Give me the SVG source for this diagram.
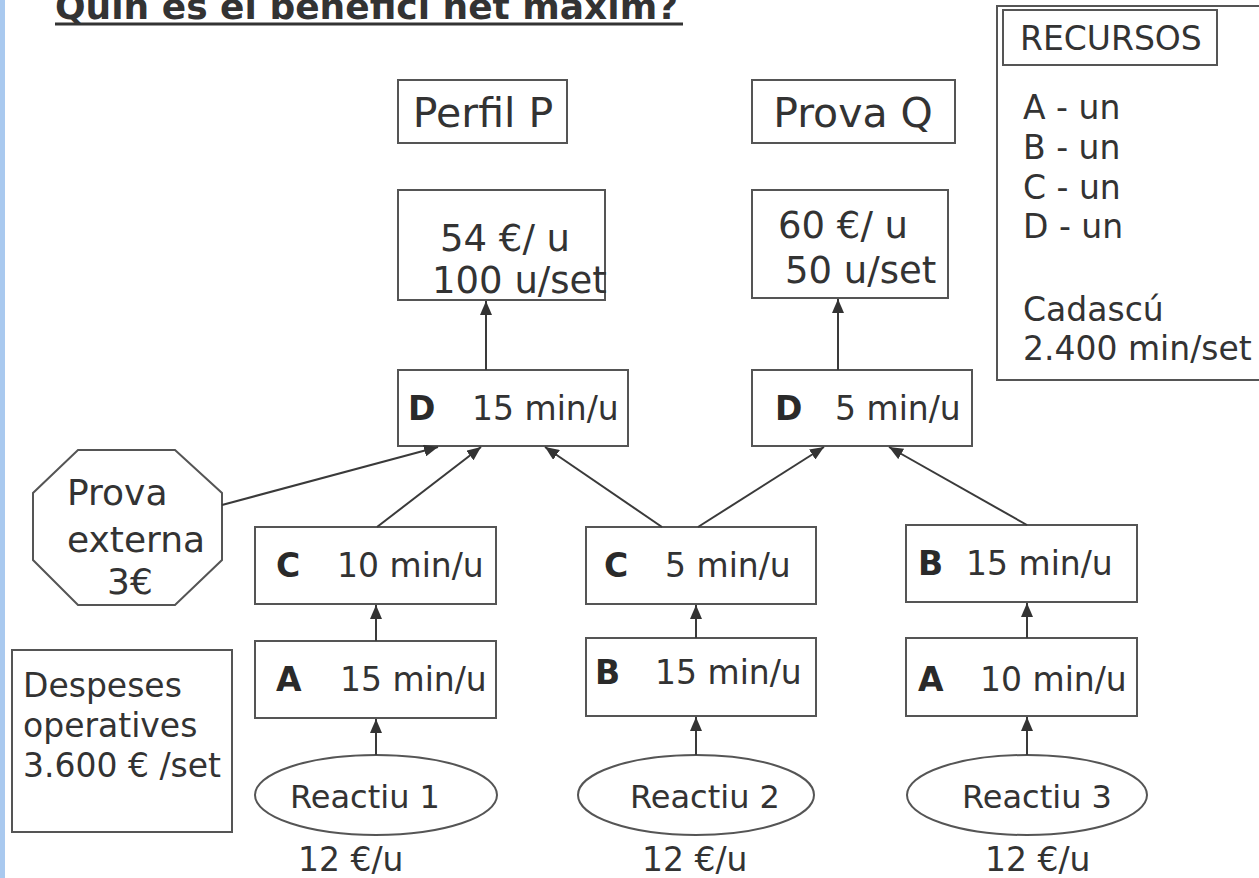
<svg xmlns="http://www.w3.org/2000/svg" width="1259" height="878" viewBox="0 0 1259 878">
  <defs>
    <marker id="arrow" viewBox="0 0 14 12" refX="14" refY="6" markerWidth="14" markerHeight="12" markerUnits="userSpaceOnUse" orient="auto">
      <path d="M0,0 L14,6 L0,12 z" fill="#333"/>
    </marker>
  </defs>
  <style>
    text { font-family: "DejaVu Sans", Verdana, sans-serif; fill: #333; }
    .box { fill: #fff; stroke: #555; stroke-width: 2; }
    .body { font-size: 33px; }
    .bold { font-size: 33px; font-weight: bold; fill: #2a2a2a; }
    .val { font-size: 37px; }
    .head { font-size: 41px; }
    .conn line { stroke: #3a3a3a; stroke-width: 2; marker-end: url(#arrow); }
  </style>

  <rect width="1259" height="878" fill="#fff"/>
  <!-- page margin strip -->
  <rect x="0" y="0" width="5" height="878" fill="#a9c9ef"/>

  <!-- title, running off the top edge -->
  <g id="title">
    <text x="55" y="19" font-size="36" font-weight="bold" fill="#333">Quin és el benefici net màxim?</text>
    <line x1="55" y1="24" x2="683" y2="24" stroke="#333" stroke-width="3"/>
  </g>

  <!-- resources panel -->
  <g id="recursos">
    <rect class="box" x="997" y="6" width="280" height="374"/>
    <rect class="box" x="1003" y="10" width="214" height="55"/>
    <text class="body" x="1020" y="50">RECURSOS</text>
    <text class="body" x="1023" y="119">A - un</text>
    <text class="body" x="1023" y="159">B - un</text>
    <text class="body" x="1023" y="199">C - un</text>
    <text class="body" x="1023" y="238">D - un</text>
    <text class="body" x="1023" y="321">Cadascú</text>
    <text class="body" x="1023" y="360">2.400 min/set</text>
  </g>

  <!-- products -->
  <g id="perfil-p">
    <rect class="box" x="398" y="80" width="169" height="63"/>
    <text class="head" x="483" y="127" text-anchor="middle">Perfil P</text>
  </g>
  <g id="prova-q">
    <rect class="box" x="752" y="80" width="203" height="63"/>
    <text class="head" x="853" y="127" text-anchor="middle">Prova Q</text>
  </g>

  <g id="preu-p">
    <rect class="box" x="398" y="190" width="207" height="110"/>
    <text class="val" x="440" y="251">54 €/ u</text>
    <text class="val" x="432" y="293">100 u/set</text>
  </g>
  <g id="preu-q">
    <rect class="box" x="752" y="190" width="196" height="108"/>
    <text class="val" x="778" y="238">60 €/ u</text>
    <text class="val" x="785" y="283">50 u/set</text>
  </g>

  <!-- resource D -->
  <g id="d-p">
    <rect class="box" x="398" y="370" width="230" height="76"/>
    <text class="bold" x="408" y="420">D</text>
    <text class="body" x="472" y="420">15 min/u</text>
  </g>
  <g id="d-q">
    <rect class="box" x="752" y="370" width="220" height="76"/>
    <text class="bold" x="775" y="420">D</text>
    <text class="body" x="835" y="420">5 min/u</text>
  </g>

  <!-- external test -->
  <g id="prova-externa">
    <polygon class="box" points="78,450 175,450 222,493 222,560 175,605 78,605 33,560 33,493"/>
    <text x="67" y="505" font-size="36">Prova</text>
    <text x="67" y="552" font-size="36">externa</text>
    <text x="107" y="594" font-size="36">3€</text>
  </g>

  <!-- second stage -->
  <g id="c-p">
    <rect class="box" x="255" y="527" width="241" height="77"/>
    <text class="bold" x="276" y="577">C</text>
    <text class="body" x="337" y="577">10 min/u</text>
  </g>
  <g id="c-pq">
    <rect class="box" x="586" y="527" width="230" height="77"/>
    <text class="bold" x="604" y="577">C</text>
    <text class="body" x="665" y="577">5 min/u</text>
  </g>
  <g id="b-q">
    <rect class="box" x="906" y="525" width="231" height="77"/>
    <text class="bold" x="918" y="575">B</text>
    <text class="body" x="966" y="575">15 min/u</text>
  </g>

  <!-- first stage -->
  <g id="a-1">
    <rect class="box" x="255" y="641" width="241" height="77"/>
    <text class="bold" x="276" y="691">A</text>
    <text class="body" x="340" y="691">15 min/u</text>
  </g>
  <g id="b-2">
    <rect class="box" x="586" y="638" width="230" height="78"/>
    <text class="bold" x="595" y="684">B</text>
    <text class="body" x="655" y="684">15 min/u</text>
  </g>
  <g id="a-3">
    <rect class="box" x="906" y="638" width="231" height="78"/>
    <text class="bold" x="918" y="691">A</text>
    <text class="body" x="980" y="691">10 min/u</text>
  </g>

  <!-- operating expenses -->
  <g id="despeses">
    <rect class="box" x="12" y="650" width="220" height="182"/>
    <text class="body" x="23" y="697">Despeses</text>
    <text class="body" x="23" y="737">operatives</text>
    <text class="body" x="23" y="777">3.600 € /set</text>
  </g>

  <!-- raw materials -->
  <g id="reactiu-1">
    <ellipse class="box" cx="376" cy="795" rx="121" ry="40"/>
    <text x="290" y="808" font-size="32">Reactiu 1</text>
    <text class="body" x="298" y="871">12 €/u</text>
  </g>
  <g id="reactiu-2">
    <ellipse class="box" cx="696" cy="795" rx="118" ry="40"/>
    <text x="630" y="808" font-size="32">Reactiu 2</text>
    <text class="body" x="642" y="871">12 €/u</text>
  </g>
  <g id="reactiu-3">
    <ellipse class="box" cx="1027" cy="795" rx="120" ry="40"/>
    <text x="962" y="808" font-size="32">Reactiu 3</text>
    <text class="body" x="985" y="871">12 €/u</text>
  </g>

  <!-- flow connectors -->
  <g id="connectors" class="conn">
    <line x1="486" y1="370" x2="486" y2="301"/>
    <line x1="838" y1="370" x2="838" y2="299"/>
    <line x1="222" y1="505" x2="438" y2="447"/>
    <line x1="377" y1="527" x2="481" y2="447"/>
    <line x1="662" y1="527" x2="545" y2="447"/>
    <line x1="698" y1="527" x2="824" y2="447"/>
    <line x1="1027" y1="525" x2="889" y2="447"/>
    <line x1="376" y1="641" x2="376" y2="605"/>
    <line x1="696" y1="638" x2="696" y2="605"/>
    <line x1="1027" y1="638" x2="1027" y2="603"/>
    <line x1="376" y1="755" x2="376" y2="719"/>
    <line x1="696" y1="755" x2="696" y2="717"/>
    <line x1="1027" y1="755" x2="1027" y2="717"/>
  </g>
</svg>
